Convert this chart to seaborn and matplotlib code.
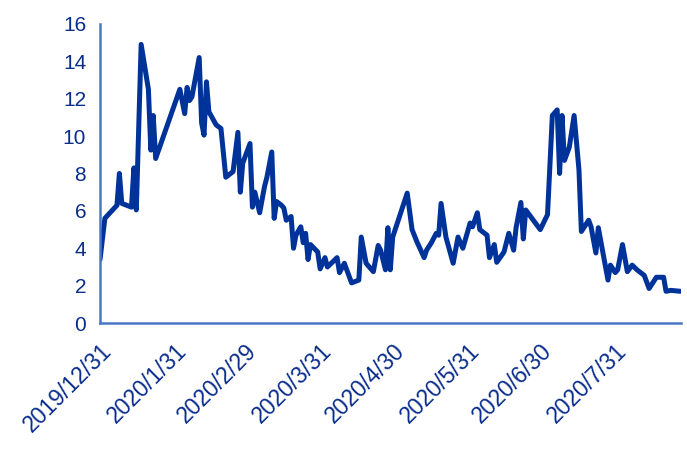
import numpy as np
import pandas as pd
import matplotlib
matplotlib.use("Agg")
import matplotlib.pyplot as plt
import seaborn as sns

# days after 2019/12/31 and the value
day_offsets = [0, 2, 7, 8, 9, 13, 14, 15, 17, 20, 21, 22, 23, 33, 35, 36, 37, 38,
               41, 42, 43, 44, 45, 48, 50, 52, 55, 57, 58, 59, 62, 63, 64, 66, 68,
               69, 71, 72, 73, 75, 76, 77, 79, 80, 81, 83, 84, 85, 86, 87, 90, 91,
               93, 94, 96, 98, 99, 101, 104, 107, 108, 110, 113, 115, 116, 118, 119,
               120, 121, 127, 129, 131, 134, 135, 137, 139, 140, 141, 143, 146, 148,
               150, 153, 154, 156, 157, 160, 161, 163, 164, 167, 169, 171, 172, 174,
               175, 176, 178, 182, 185, 187, 189, 190, 191, 192, 194, 196, 198, 199,
               202, 203, 205, 206, 210, 211, 213, 214, 216, 218, 220, 222, 225, 227,
               230, 233, 234, 236, 240]
values = [3.4, 5.6, 6.3, 8.0, 6.4, 6.2, 8.3, 6.05, 14.9, 12.5, 9.25, 11.1, 8.8, 12.5,
          11.2, 12.6, 11.9, 12.1, 14.2, 10.7, 10.05, 12.9, 11.3, 10.6, 10.4, 7.8, 8.1,
          10.2, 7.0, 8.55, 9.6, 6.2, 7.0, 5.9, 7.3, 7.8, 9.15, 5.6, 6.5, 6.3, 6.15, 5.5,
          5.7, 4.0, 4.7, 5.15, 4.3, 4.8, 3.4, 4.2, 3.8, 2.9, 3.5, 3.0, 3.25, 3.5, 2.7,
          3.2, 2.15, 2.3, 4.6, 3.2, 2.75, 4.15, 3.9, 2.85, 5.1, 2.85, 4.6, 6.95, 5.0,
          4.35, 3.5, 3.9, 4.3, 4.8, 4.7, 6.4, 4.6, 3.2, 4.6, 4.0, 5.35, 5.15, 5.9, 5.0,
          4.7, 3.5, 4.2, 3.25, 3.8, 4.8, 3.9, 5.1, 6.45, 4.5, 6.05, 5.7, 5.0, 5.8, 11.1,
          11.4, 8.0, 11.1, 8.7, 9.4, 11.1, 8.2, 4.9, 5.5, 5.15, 3.75, 5.1, 2.3, 3.1, 2.7,
          2.85, 4.2, 2.75, 3.1, 2.85, 2.55, 1.85, 2.45, 2.45, 1.7, 1.75, 1.7]

tick_dates = ["2019-12-31", "2020-01-31", "2020-02-29", "2020-03-31",
              "2020-04-30", "2020-05-31", "2020-06-30", "2020-07-31"]
tick_labels = ["2019/12/31", "2020/1/31", "2020/2/29", "2020/3/31",
               "2020/4/30", "2020/5/31", "2020/6/30", "2020/7/31"]

start = pd.Timestamp("2019-12-31")
df = pd.DataFrame({
    "date": start + pd.to_timedelta(day_offsets, unit="D"),
    "value": values,
})

sns.set_style("white")
plt.rcParams["font.family"] = ["Liberation Sans", "DejaVu Sans"]

line_color = "#003399"
axis_color = "#4a76c6"
text_color = "#0a2d8c"

fig = plt.figure(figsize=(6.87, 4.5), dpi=100)
ax = fig.add_axes([0.1456, 0.282, 0.845, 0.665])

sns.lineplot(data=df, x="date", y="value", ax=ax, color=line_color, linewidth=3.6)

ax.set_xlim(start, start + pd.Timedelta(days=240))
ax.set_ylim(0, 16)
ax.set_yticks(np.arange(0, 17, 2))
ax.set_xticks(pd.to_datetime(tick_dates))
ax.set_xticklabels(tick_labels, rotation=45, ha="right", rotation_mode="anchor")
ax.set_xlabel("")
ax.set_ylabel("")

for side in ["top", "right"]:
    ax.spines[side].set_visible(False)
for side in ["left", "bottom"]:
    ax.spines[side].set_color(axis_color)
    ax.spines[side].set_linewidth(1.8)

ax.tick_params(axis="both", direction="out", length=6, width=1.5,
               color=axis_color, labelcolor=text_color, labelsize=15, pad=4)
ax.tick_params(axis="x", labelsize=16.5, pad=6)

fig.savefig("out.png", dpi=100)
